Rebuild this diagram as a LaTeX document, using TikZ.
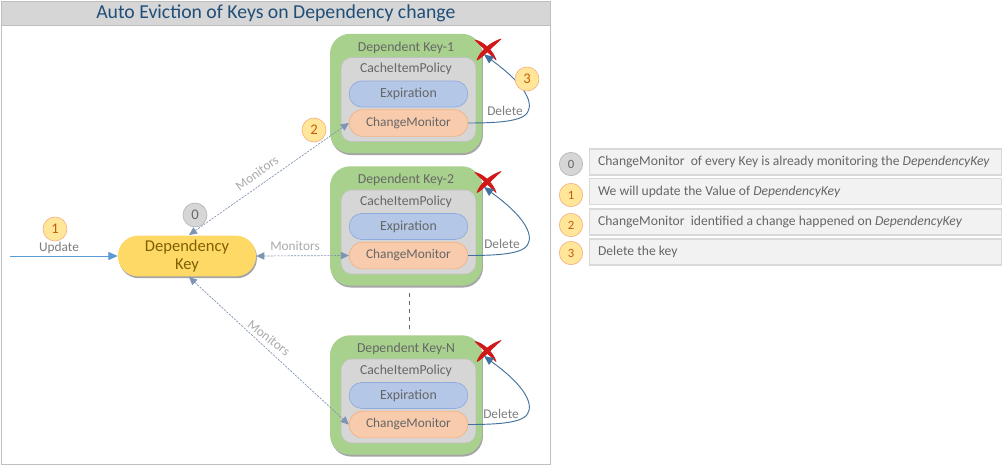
\documentclass[tikz,border=0pt]{standalone}
\usepackage{fontspec}
\setmainfont{Carlito}
\usetikzlibrary{shadows,arrows.meta,calc}
\definecolor{txtgray}{HTML}{666666}
\definecolor{lblgray}{HTML}{ABABAB}
\definecolor{cardgreen}{HTML}{A9D18E}
\definecolor{innergray}{HTML}{D6D6D6}
\definecolor{expblue}{HTML}{B4C7E7}
\definecolor{expedge}{HTML}{8FAADC}
\definecolor{cmorange}{HTML}{F8CBAD}
\definecolor{cmedge}{HTML}{F4B183}
\definecolor{depyellow}{HTML}{FFD966}
\definecolor{arrowblue}{HTML}{41719C}
\definecolor{updblue}{HTML}{5B9BD5}
\definecolor{dashblue}{HTML}{7F93B2}
\definecolor{badgefill}{HTML}{FFE699}
\definecolor{badgeedge}{HTML}{F4B183}
\definecolor{badgetxt}{HTML}{C55A11}
\definecolor{panelfill}{HTML}{F2F2F2}
\definecolor{paneledge}{HTML}{D9D9D9}
\definecolor{framegray}{HTML}{BFBFBF}
\definecolor{titleblue}{HTML}{1F4E79}
\definecolor{depbrown}{HTML}{7F6000}
\definecolor{crossred}{HTML}{D01818}
\tikzset{
 x=0.75pt,y=-0.75pt,
 softshadow/.style={drop shadow={shadow xshift=0.7pt,shadow yshift=-1.4pt,opacity=0.5,fill=black!70}},
 card/.style={fill=cardgreen,rounded corners=15pt,minimum width=114pt,minimum height=89.5pt,inner sep=0pt,softshadow},
 inner/.style={fill=innergray,draw=innergray!90!black,line width=0.4pt,rounded corners=8pt,minimum width=101pt,minimum height=63pt,inner sep=0pt},
 exppill/.style={fill=expblue,draw=expedge,line width=0.5pt,rounded corners=9.5pt,minimum width=89pt,minimum height=19.5pt,inner sep=0pt,text=txtgray,font=\fontsize{10.4pt}{12pt}\selectfont},
 cmpill/.style={fill=cmorange,draw=cmedge,line width=0.5pt,rounded corners=10pt,minimum width=89pt,minimum height=20pt,inner sep=0pt,text=txtgray,font=\fontsize{10pt}{12pt}\selectfont},
 cardtxt/.style={text=txtgray,font=\fontsize{10.3pt}{12pt}\selectfont,inner sep=0pt},
 badge/.style={circle,fill=badgefill,draw=badgeedge,line width=0.5pt,minimum size=18pt,inner sep=0pt,text=badgetxt,font=\fontsize{11pt}{13pt}\selectfont},
 badgegray/.style={badge,fill=innergray,draw=innergray!85!black,text=txtgray},
 panel/.style={fill=panelfill,draw=paneledge,line width=0.8pt,minimum width=309.5pt,minimum height=19.5pt,inner sep=0pt},
 paneltxt/.style={text=txtgray,font=\fontsize{10.2pt}{12pt}\selectfont,inner sep=0pt,anchor=west},
 deletearrow/.style={draw=arrowblue,line width=0.7pt,-{Triangle[length=7pt,width=6pt]}},
 monitor/.style={draw=dashblue,line width=0.5pt,dash pattern=on 1.6pt off 0.9pt,{Triangle[length=6pt,width=5.5pt,fill=dashblue]}-{Triangle[length=6pt,width=5.5pt,fill=dashblue]}},
 monlabel/.style={text=lblgray,font=\fontsize{10pt}{12pt}\selectfont,inner sep=0pt},
 dellabel/.style={text=txtgray!85,font=\fontsize{10pt}{12pt}\selectfont,inner sep=0pt},
 crossmark/.style={fill=crossred,draw=crossred,line width=0.5pt,line join=round},
}
\newcommand{\keycard}[3]{%
 \node[card] (#1) at (406,#2) {};
 \node[inner] (#1in) at (408.5,#2+6) {};
 \node[cardtxt] (#1t) at (406,#2-46) {#3};
 \node[cardtxt] (#1p) at (406,#2-24.5) {CacheItemPolicy};
 \node[exppill] (#1e) at (408.5,#2+0.5) {Expiration};
 \node[cmpill] (#1m) at (408.5,#2+29.5) {ChangeMonitor};
 \coordinate (#1x) at (487,#2-44.5);
 \fill[crossmark] ($(#1x)+(-12,-9)$) .. controls ($(#1x)+(-5,-8)$) and ($(#1x)+(6,1)$) .. ($(#1x)+(9,11)$) .. controls ($(#1x)+(3,5)$) and ($(#1x)+(-6,-3)$) .. cycle;
 \fill[crossmark] ($(#1x)+(14,-10)$) .. controls ($(#1x)+(4,-7)$) and ($(#1x)+(-7,2)$) .. ($(#1x)+(-10,11)$) .. controls ($(#1x)+(-5,9)$) and ($(#1x)+(5,-2)$) .. cycle;
 \coordinate (#1h) at (484,#2-39);
 \draw[deletearrow] (#1m.east) .. controls ($(#1m.east)+(50,0)$) and ($(#1m.east)+(63,-5)$) .. ($(#1m.east)+(61,-20)$) .. controls ($(#1m.east)+(58,-38)$) and ($(#1m.east)+(30,-58)$) .. (#1h);
}
\begin{document}
\begin{tikzpicture}
\useasboundingbox (0,0) rectangle (1006,465);
\fill[white] (0,0) rectangle (1006,465);
\node[draw=framegray,line width=0.8pt,minimum width=411.5pt,minimum height=347pt,inner sep=0pt,anchor=north west] (frame) at (1,1) {};
\node[fill=innergray,draw=framegray,line width=0.8pt,minimum width=411.5pt,minimum height=18pt,inner sep=0pt,anchor=north west,text=titleblue,font=\fontsize{14.8pt}{17pt}\selectfont] (title) at (1,1) {\raisebox{-0.7pt}{Auto Eviction of Keys on Dependency change}};

\keycard{ka}{93.5}{Dependent Key-1}
\keycard{kb}{226}{Dependent Key-2}
\keycard{kn}{395}{Dependent Key-N}

\node[fill=depyellow,rounded corners=15pt,minimum width=103.5pt,minimum height=30.5pt,inner sep=0pt,softshadow,align=center,text=depbrown,font=\fontsize{12.4pt}{13.5pt}\selectfont] (dep) at (187,256) {Dependency\\Key};

\coordinate (start) at (10,256);
\draw[draw=updblue,line width=0.6pt,-{Triangle[length=7pt,width=6pt]}] (start) -- (dep.west);
\node[monlabel,text=txtgray!85] (upd) at (59,248) {Update};
\node[badge] (b1) at (55,229) {1};
\node[badgegray] (b0) at (195,215) {0};
\node[badge] (b2) at (314,130) {2};
\node[badge] (b3) at (527,79) {3};

\coordinate (dt) at (189,235);
\coordinate (db) at (189,277);
\draw[monitor] (dt) -- (kam.west);
\draw[monitor] (dep.east) -- (kbm.west);
\draw[monitor] (db) -- (knm.west);
\node[monlabel,rotate=36] (m1) at (257,173) {Monitors};
\node[monlabel] (m2) at (295,246) {Monitors};
\node[monlabel,rotate=-38] (m3) at (269,338) {Monitors};

\node[dellabel] (d1) at (505,111) {Delete};
\node[dellabel] (d2) at (502,244) {Delete};
\node[dellabel] (d3) at (501,414) {Delete};

\coordinate (gapa) at (409.5,293);
\coordinate (gapb) at (409.5,331);
\draw[draw=txtgray,line width=0.5pt,dashed] (gapa) -- (gapb);

\node[panel,anchor=west] (p0) at (588.5,162) {};
\node[panel,anchor=west] (p1) at (588.5,191.5) {};
\node[panel,anchor=west] (p2) at (588.5,222) {};
\node[panel,anchor=west] (p3) at (588.5,252) {};
\node[badgegray,minimum size=17.5pt,font=\fontsize{9.5pt}{11pt}\selectfont] (c0) at (571,164) {0};
\node[badge,minimum size=17.5pt,font=\fontsize{9.5pt}{11pt}\selectfont] (c1) at (571,195) {1};
\node[badge,minimum size=17.5pt,font=\fontsize{9.5pt}{11pt}\selectfont] (c2) at (571,225) {2};
\node[badge,minimum size=17.5pt,font=\fontsize{9.5pt}{11pt}\selectfont] (c3) at (571,253) {3};
\node[paneltxt] (t0) at ([xshift=7pt]p0.west) {ChangeMonitor\ \ of every Key is already monitoring the \textit{DependencyKey}};
\node[paneltxt] (t1) at ([xshift=7pt]p1.west) {We will update the Value of \textit{DependencyKey}};
\node[paneltxt] (t2) at ([xshift=7pt]p2.west) {ChangeMonitor\ \ identified a change happened on \textit{DependencyKey}};
\node[paneltxt] (t3) at ([xshift=7pt]p3.west) {Delete the key};
\end{tikzpicture}
\end{document}
